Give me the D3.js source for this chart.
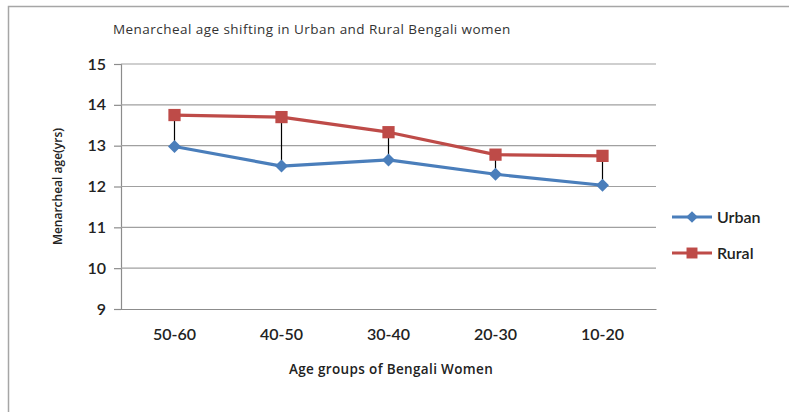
<!DOCTYPE html>
<html>
<head>
<meta charset="utf-8">
<script src="https://cdn.jsdelivr.net/npm/d3@7/dist/d3.min.js"></script>
<style>
  html, body { margin: 0; padding: 0; background: #fff; }
  svg { display: block; }
</style>
</head>
<body>
<svg id="chart" width="789" height="412"></svg>
<script>
// Age groups (oldest to youngest) and mean menarcheal age per group
const categories = ["50-60", "40-50", "30-40", "20-30", "10-20"];
const urbanValues = [12.98, 12.5, 12.65, 12.3, 12.03];
const ruralValues = [13.75, 13.7, 13.33, 12.78, 12.75];
const yTicks = [9, 10, 11, 12, 13, 14, 15];

// diamond marker: a square turned by 45 degrees
const diamond = {
  draw(ctx, size) {
    const r = Math.sqrt(size / 2);
    ctx.moveTo(0, -r); ctx.lineTo(r, 0); ctx.lineTo(0, r); ctx.lineTo(-r, 0); ctx.closePath();
  }
};

const seriesList = [
  { name: "Urban", values: urbanValues, color: "#4A7EBB", symbol: diamond, size: 85 },
  { name: "Rural", values: ruralValues, color: "#BE4B48", symbol: d3.symbolSquare, size: 150 }
];

const svg = d3.select("#chart");
const font = "Lato, 'Open Sans', 'Liberation Sans', sans-serif";
const smallFont = "'Open Sans', 'Liberation Sans', sans-serif";

// chart frame (top and left edges visible)
svg.append("path")
  .attr("d", "M8.5,412 L8.5,6.5 L789,6.5")
  .attr("fill", "none")
  .attr("stroke", "#a6a6a6")
  .attr("stroke-width", 1.5);

const plot = { left: 121, right: 656, top: 64, bottom: 309 };

const x = d3.scaleBand().domain(categories).range([plot.left, plot.right]);
const y = d3.scaleLinear().domain([9, 15]).range([plot.bottom, plot.top]);

// title
svg.append("text")
  .attr("x", 113).attr("y", 34)
  .attr("font-family", smallFont).attr("font-size", 13.5)
  .attr("letter-spacing", 0.45)
  .attr("fill", "#333")
  .text("Menarcheal age shifting in Urban and Rural Bengali women");

// horizontal gridlines + y axis
const yAxis = d3.axisLeft(y).tickValues(yTicks).tickSize(7).tickPadding(8).tickFormat(d3.format("d"));
const gy = svg.append("g").attr("transform", `translate(${plot.left},0)`).call(yAxis);
gy.select(".domain").attr("stroke", "#8c8c8c").attr("stroke-width", 1.2);
gy.selectAll(".tick line").attr("stroke", "#8c8c8c").attr("stroke-width", 1.2);
gy.selectAll(".tick text")
  .attr("font-family", font).attr("font-size", 16).attr("font-weight", 600)
  .attr("fill", "#222");

svg.append("g").selectAll("line")
  .data(yTicks.filter(t => t > 9))
  .join("line")
  .attr("x1", plot.left).attr("x2", plot.right)
  .attr("y1", d => y(d)).attr("y2", d => y(d))
  .attr("stroke", "#a0a0a0").attr("stroke-width", 1.2);

// x axis
const xAxis = d3.axisBottom(x).tickSize(0).tickPadding(20);
const gx = svg.append("g").attr("transform", `translate(0,${plot.bottom})`).call(xAxis);
gx.select(".domain").attr("stroke", "#8c8c8c").attr("stroke-width", 1.2);
gx.selectAll(".tick text")
  .attr("font-family", font).attr("font-size", 16).attr("font-weight", 600)
  .attr("fill", "#222");

// axis titles
svg.append("text")
  .attr("transform", `translate(62,${(plot.top + plot.bottom) / 2}) rotate(-90)`)
  .attr("text-anchor", "middle")
  .attr("font-family", smallFont).attr("font-size", 12).attr("font-weight", 600)
  .attr("fill", "#222")
  .text("Menarcheal age(yrs)");

svg.append("text")
  .attr("x", 391).attr("y", 374)
  .attr("text-anchor", "middle")
  .attr("font-family", smallFont).attr("font-size", 13.5).attr("font-weight", 600)
  .attr("letter-spacing", 0.35)
  .attr("fill", "#222")
  .text("Age groups of Bengali  Women");

const cx = d => x(d) + x.bandwidth() / 2;

// high-low lines between the two series
svg.append("g").selectAll("line")
  .data(categories)
  .join("line")
  .attr("x1", d => cx(d)).attr("x2", d => cx(d))
  .attr("y1", (d, i) => y(ruralValues[i]))
  .attr("y2", (d, i) => y(urbanValues[i]))
  .attr("stroke", "#000").attr("stroke-width", 1.2);

// series lines and markers
const line = d3.line().x((v, i) => cx(categories[i])).y(v => y(v));

seriesList.forEach(s => {
  svg.append("path")
    .datum(s.values)
    .attr("d", line)
    .attr("fill", "none")
    .attr("stroke", s.color)
    .attr("stroke-width", 3.2)
    .attr("stroke-linejoin", "round");
  svg.append("g").selectAll("path")
    .data(s.values)
    .join("path")
    .attr("transform", (v, i) => `translate(${cx(categories[i])},${y(v)})`)
    .attr("d", d3.symbol().type(s.symbol).size(s.size))
    .attr("fill", s.color);
});

// legend
const legend = svg.append("g").attr("transform", "translate(672,0)");
seriesList.forEach((s, i) => {
  const ly = 217 + i * 36;
  legend.append("line")
    .attr("x1", 0).attr("x2", 40).attr("y1", ly).attr("y2", ly)
    .attr("stroke", s.color).attr("stroke-width", 3.2);
  legend.append("path")
    .attr("transform", `translate(20,${ly})`)
    .attr("d", d3.symbol().type(s.symbol).size(s.size * 0.8))
    .attr("fill", s.color);
  legend.append("text")
    .attr("x", 45).attr("y", ly + 5.5)
    .attr("font-family", font).attr("font-size", 16).attr("font-weight", 600)
    .attr("fill", "#222")
    .text(s.name);
});
</script>
</body>
</html>
